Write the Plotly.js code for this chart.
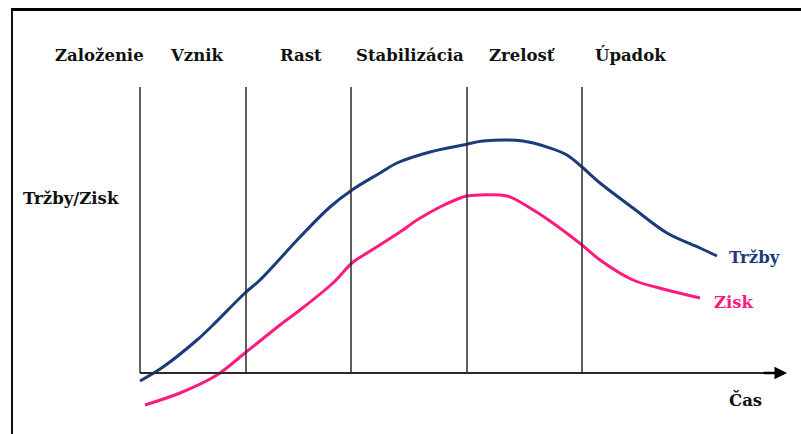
<!DOCTYPE html>
<html><head><meta charset="utf-8">
<script src="https://cdn.plot.ly/plotly-3.0.1.min.js"></script>
<style>
html,body{margin:0;padding:0;background:#fff;overflow:hidden}
#wrap{position:relative;width:801px;height:434px}
#chart{width:801px;height:434px}
#frame{position:absolute;left:11px;top:8px;width:800px;height:440px;border-top:3px solid #000;border-left:2px solid #111;pointer-events:none;box-sizing:border-box}
</style>
</head><body><div id="wrap"><div id="chart"></div><div id="frame"></div></div>
<script>
// Time axis (0 = origin), value axis (0 = baseline)
const trzbyX = [0, 2.3, 5.7, 7.3, 10.5, 12, 16, 19, 21.2, 24, 25.7, 29, 32.3, 34.3, 38.3, 41, 42.7, 44.2, 46, 49.3, 52.7, 56, 57.7];
const trzbyY = [-0.8, 0.6, 3.3, 4.8, 8.0, 9.3, 13.6, 16.6, 18.3, 20.0, 21.0, 22.1, 22.8, 23.2, 23.2, 22.5, 21.8, 20.6, 19.0, 16.5, 14.0, 12.5, 11.7];
const ziskX = [0.5, 4, 7.7, 10.5, 14, 16, 19.3, 21.2, 22.7, 26, 27.7, 30, 32.3, 32.7, 36.7, 39, 41, 44.2, 46, 49.3, 52.7, 56];
const ziskY = [-3.2, -2.0, -0.2, 2.0, 4.8, 6.3, 9.0, 11.0, 12.0, 14.1, 15.3, 16.6, 17.6, 17.7, 17.7, 16.5, 15.2, 12.8, 11.3, 9.3, 8.3, 7.5];
const phaseBounds = [10.6, 21.1, 32.7, 44.2];
const phaseLabels = ["Založenie", "Vznik", "Rast", "Stabilizácia", "Zrelosť", "Úpadok"];
const phaseLabelX = [-4.1, 5.6, 16.1, 27.0, 38.2, 49.0];
const axisTop = 28.6;
const axisEnd = 64.7;

const blue = "#1b3b7b", pink = "#ff1a80", ink = "#2a2a2a";
const fontFam = "DejaVu Serif, Liberation Serif, serif";

const traces = [
  {x: trzbyX, y: trzbyY, mode: "lines", line: {color: blue, width: 3, shape: "spline", smoothing: 1}, hoverinfo: "skip"},
  {x: ziskX, y: ziskY, mode: "lines", line: {color: pink, width: 3, shape: "spline", smoothing: 0.9}, hoverinfo: "skip"}
];

const shapes = [
  {type: "line", x0: 0, x1: 0, y0: 0, y1: axisTop, line: {color: ink, width: 1.5}},
  {type: "line", x0: 0, x1: axisEnd - 1.2, y0: 0, y1: 0, line: {color: ink, width: 2}}
];
phaseBounds.forEach(b => shapes.push({type: "line", x0: b, x1: b, y0: 0, y1: axisTop, line: {color: ink, width: 1.5}}));

const lblFont = {family: fontFam, size: 16.5, color: "#111", weight: "bold"};
const annotations = phaseLabels.map((t, i) => ({x: phaseLabelX[i], y: 31.8, text: t, showarrow: false, font: lblFont, xanchor: "center", yanchor: "middle"}));
annotations.push({x: -6.9, y: 17.5, text: "Tržby/Zisk", showarrow: false, font: lblFont, xanchor: "center", yanchor: "middle"});
annotations.push({x: 61.4, y: 11.6, text: "Tržby", showarrow: false, font: Object.assign({}, lblFont, {color: blue}), xanchor: "center", yanchor: "middle"});
annotations.push({x: 59.4, y: 7.1, text: "Zisk", showarrow: false, font: Object.assign({}, lblFont, {color: pink}), xanchor: "center", yanchor: "middle"});
annotations.push({x: 60.5, y: -2.7, text: "Čas", showarrow: false, font: lblFont, xanchor: "center", yanchor: "middle"});
annotations.push({x: axisEnd, y: 0, ax: axisEnd - 2.5, ay: 0, axref: "x", ayref: "y", showarrow: true, arrowhead: 2, arrowsize: 1, arrowwidth: 2.5, arrowcolor: "#000", text: ""});

const layout = {
  width: 801, height: 434, margin: {l: 0, r: 0, t: 0, b: 0},
  paper_bgcolor: "#fff", plot_bgcolor: "#fff", showlegend: false,
  xaxis: {range: [-14, 66.1], visible: false, fixedrange: true},
  yaxis: {range: [-6.1, 37.3], visible: false, fixedrange: true},
  shapes: shapes, annotations: annotations
};
Plotly.newPlot("chart", traces, layout, {staticPlot: true});
</script></body></html>
